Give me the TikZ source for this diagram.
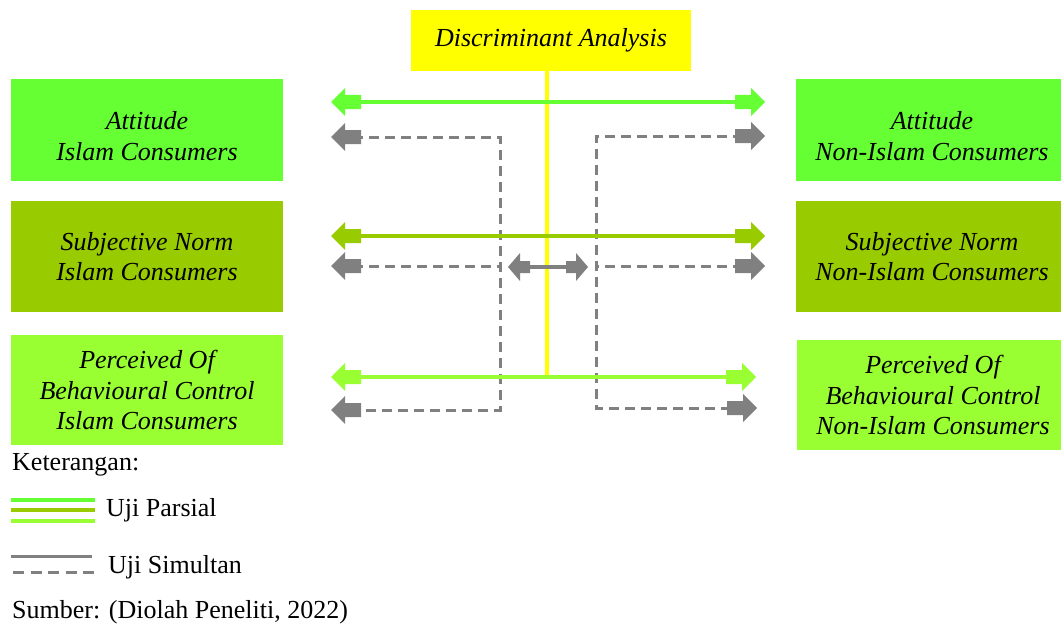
\documentclass[tikz,border=0pt]{standalone}
\usepackage{fontspec}
\setmainfont{Liberation Serif}
\usetikzlibrary{arrows.meta}

% Block arrow head: triangle point with a short rectangular neck
\pgfdeclarearrow{
  name = BlockTip,
  setup code = {
    \pgfarrowssettipend{0pt}
    \pgfarrowssetlineend{-22pt}
    \pgfarrowssetbackend{-30pt}
    \pgfarrowsupperhullpoint{0pt}{0pt}
    \pgfarrowsupperhullpoint{-14pt}{14pt}
    \pgfarrowsupperhullpoint{-30pt}{7pt}
  },
  drawing code = {
    \pgfpathmoveto{\pgfpoint{0pt}{0pt}}
    \pgfpathlineto{\pgfpoint{-14pt}{14pt}}
    \pgfpathlineto{\pgfpoint{-14pt}{7pt}}
    \pgfpathlineto{\pgfpoint{-30pt}{7pt}}
    \pgfpathlineto{\pgfpoint{-30pt}{-7pt}}
    \pgfpathlineto{\pgfpoint{-14pt}{-7pt}}
    \pgfpathlineto{\pgfpoint{-14pt}{-14pt}}
    \pgfpathclose
    \pgfusepathqfill
  }
}
% Smaller variant for the short link between the two groups
\pgfdeclarearrow{
  name = BlockTipSmall,
  setup code = {
    \pgfarrowssettipend{0pt}
    \pgfarrowssetlineend{-16pt}
    \pgfarrowssetbackend{-22pt}
    \pgfarrowsupperhullpoint{0pt}{0pt}
    \pgfarrowsupperhullpoint{-12pt}{14pt}
    \pgfarrowsupperhullpoint{-22pt}{6pt}
  },
  drawing code = {
    \pgfpathmoveto{\pgfpoint{0pt}{0pt}}
    \pgfpathlineto{\pgfpoint{-12pt}{14pt}}
    \pgfpathlineto{\pgfpoint{-12pt}{6pt}}
    \pgfpathlineto{\pgfpoint{-22pt}{6pt}}
    \pgfpathlineto{\pgfpoint{-22pt}{-6pt}}
    \pgfpathlineto{\pgfpoint{-12pt}{-6pt}}
    \pgfpathlineto{\pgfpoint{-12pt}{-14pt}}
    \pgfpathclose
    \pgfusepathqfill
  }
}

\definecolor{gOne}{HTML}{66FF33}
\definecolor{gTwo}{HTML}{99CC00}
\definecolor{gThree}{HTML}{99FF33}
\definecolor{yel}{HTML}{FFFF00}
\definecolor{grey}{HTML}{808080}

\tikzset{
  box/.style={inner sep=0pt, minimum width=272pt, align=center,
    font=\fontsize{26}{30.5}\selectfont\itshape},
  partial/.style={line width=4pt, BlockTip-BlockTip},
  simul/.style={line width=3pt, color=grey, dash pattern=on 10pt off 6pt},
  legtext/.style={anchor=base west, inner sep=0pt,
    font=\fontsize{26}{30}\selectfont},
}

\begin{document}
\begin{tikzpicture}[x=1pt, y=-1pt]
\clip (0,0) rectangle (1061,626);
\fill[white] (0,0) rectangle (1061,626);

% title box
\node[box, fill=yel, minimum width=280pt, minimum height=61pt]
  (title) at (551,40.5) {Discriminant Analysis};

% left column
\node[box, fill=gOne, minimum height=102pt]
  (L1) at (147,130) {\rule{0pt}{30pt}Attitude\\Islam Consumers};
\node[box, fill=gTwo, minimum height=111pt]
  (L2) at (147,256.5) {Subjective Norm\\Islam Consumers};
\node[box, fill=gThree, minimum height=110pt]
  (L3) at (147,390) {Perceived Of\\Behavioural Control\\Islam Consumers};

% right column
\node[box, fill=gOne, minimum height=102pt]
  (R1) at (932,130) {\rule{0pt}{30pt}Attitude\\Non-Islam Consumers};
\node[box, fill=gTwo, minimum height=111pt]
  (R2) at (932,256.5) {Subjective Norm\\Non-Islam Consumers};
\node[box, fill=gThree, minimum height=110pt]
  (R3) at (933,395) {Perceived Of\\Behavioural Control\\Non-Islam Consumers};

% arrow end points
\coordinate (p1l) at (331,102);  \coordinate (p1r) at (765,102);
\coordinate (p2l) at (331,236);  \coordinate (p2r) at (765,236);
\coordinate (p3l) at (331,377);  \coordinate (p3r) at (756,377);
\coordinate (s1l) at (331,137);  \coordinate (s1r) at (765,136);
\coordinate (s2l) at (331,266);  \coordinate (s2r) at (765,266);
\coordinate (s3l) at (331,410);  \coordinate (s3r) at (757,408);
\coordinate (jl) at (500,137);   \coordinate (jr) at (596,136);
\coordinate (ml) at (508,267);   \coordinate (mr) at (588,267);
\coordinate (ybot) at (546.5,377);

% simultaneous tests (dashed)
\draw[simul, BlockTip-BlockTip] (s1l) -- (jl) -- (jl |- s3l) -- (s3l);
\draw[simul, BlockTip-] (s2l) -- (jl |- s2l);
\draw[simul, BlockTip-BlockTip] (s1r) -- (jr) -- (jr |- s3r) -- (s3r);
\draw[simul, BlockTip-] (s2r) -- (jr |- s2r);

% discriminant stem
\draw[yel, line width=4pt] (ybot |- title.south) -- (ybot);

% partial tests
\draw[partial, color=gOne] (p1l) -- (p1r);
\draw[partial, color=gTwo] (p2l) -- (p2r);
\draw[partial, color=gThree] (p3l) -- (p3r);

% link between the two groups
\draw[line width=4pt, color=grey, BlockTipSmall-BlockTipSmall] (ml) -- (mr);

% legend
\node[legtext] (ket) at (12,470) {Keterangan:};
\coordinate (la) at (11,500); \coordinate (lb) at (95,500);
\draw[gOne, line width=4pt] (la) -- (lb);
\draw[gTwo, line width=4pt] ([yshift=-10pt]la) -- ([yshift=-10pt]lb);
\draw[gThree, line width=4pt] ([yshift=-21pt]la) -- ([yshift=-21pt]lb);
\node[legtext] (lp) at (106,516) {Uji Parsial};
\coordinate (lc) at (11,556); \coordinate (ld) at (92,556);
\draw[grey, line width=3pt] (lc) -- (ld);
\draw[grey, line width=3pt, dash pattern=on 11pt off 6.5pt]
  ([shift={(2,16)}]lc) -- ([shift={(3,16)}]ld);
\node[legtext] (ls) at (108,573) {Uji Simultan};
\node[legtext] (src) at (12,618) {Sumber: (Diolah Peneliti, 2022)};
\end{tikzpicture}
\end{document}
